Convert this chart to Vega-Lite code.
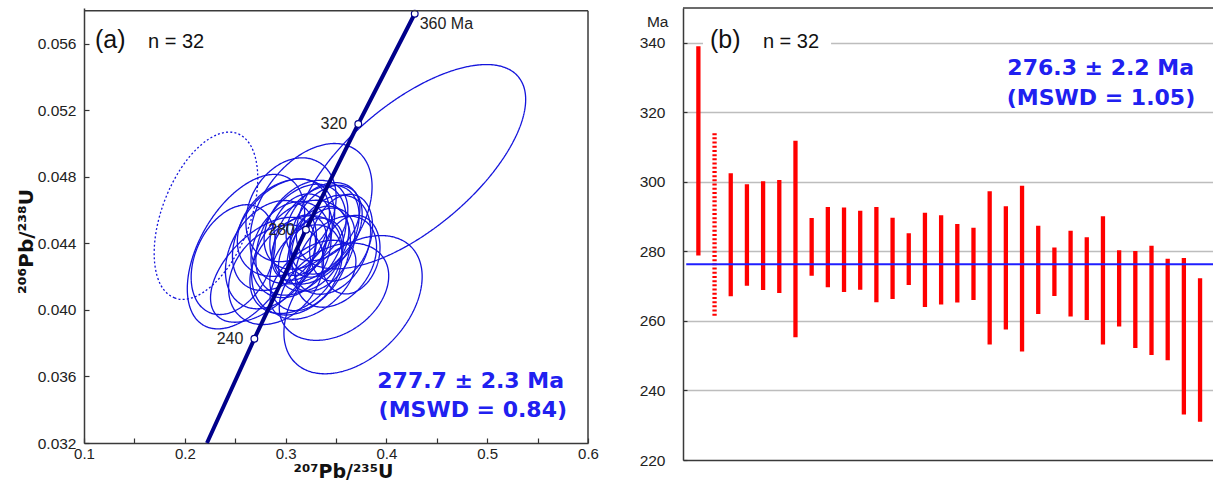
{
  "$schema": "https://vega.github.io/schema/vega-lite/v6.json",
  "padding": {"left": 16, "top": 5, "right": 0, "bottom": 0},
  "spacing": 40,
  "config": {"view": {"stroke": null}, "font": "Liberation Sans", "axis": {"labelFont": "Liberation Sans", "titleFont": "DejaVu Sans"}},
  "datasets": {
    "ellipses": [
      {"id": 1, "x": 0.4244, "y": 0.04862, "a": 0.1389, "ratio": "0.45", "theta": 40, "style": "solid"},
      {"id": 2, "x": 0.2210, "y": 0.04567, "a": 0.0873, "ratio": "0.5", "theta": 69, "style": "dashed"},
      {"id": 3, "x": 0.3669, "y": 0.04032, "a": 0.0813, "ratio": "0.65", "theta": 45, "style": "solid"},
      {"id": 4, "x": 0.3480, "y": 0.04110, "a": 0.0595, "ratio": "0.7", "theta": 35, "style": "solid"},
      {"id": 5, "x": 0.2607, "y": 0.04351, "a": 0.0843, "ratio": "0.55", "theta": 60, "style": "solid"},
      {"id": 6, "x": 0.3252, "y": 0.04579, "a": 0.0774, "ratio": "0.65", "theta": 55, "style": "solid"},
      {"id": 7, "x": 0.3153, "y": 0.04423, "a": 0.0595, "ratio": "0.65", "theta": 60, "style": "solid"},
      {"id": 8, "x": 0.3302, "y": 0.04453, "a": 0.0546, "ratio": "0.65", "theta": 55, "style": "solid"},
      {"id": 9, "x": 0.3054, "y": 0.04363, "a": 0.0496, "ratio": "0.75", "theta": 65, "style": "solid"},
      {"id": 10, "x": 0.3351, "y": 0.04363, "a": 0.0446, "ratio": "0.65", "theta": 60, "style": "solid"},
      {"id": 11, "x": 0.3202, "y": 0.04513, "a": 0.0496, "ratio": "0.7", "theta": 50, "style": "solid"},
      {"id": 12, "x": 0.2954, "y": 0.04453, "a": 0.0615, "ratio": "0.65", "theta": 55, "style": "solid"},
      {"id": 13, "x": 0.3401, "y": 0.04483, "a": 0.0476, "ratio": "0.65", "theta": 60, "style": "solid"},
      {"id": 14, "x": 0.3103, "y": 0.04273, "a": 0.0546, "ratio": "0.7", "theta": 50, "style": "solid"},
      {"id": 15, "x": 0.3252, "y": 0.04333, "a": 0.0397, "ratio": "0.7", "theta": 55, "style": "solid"},
      {"id": 16, "x": 0.3450, "y": 0.04393, "a": 0.0516, "ratio": "0.7", "theta": 65, "style": "solid"},
      {"id": 17, "x": 0.2855, "y": 0.04333, "a": 0.0575, "ratio": "0.7", "theta": 60, "style": "solid"},
      {"id": 18, "x": 0.3153, "y": 0.04453, "a": 0.0417, "ratio": "0.7", "theta": 70, "style": "solid"},
      {"id": 19, "x": 0.3331, "y": 0.04411, "a": 0.0377, "ratio": "0.7", "theta": 60, "style": "solid"},
      {"id": 20, "x": 0.3004, "y": 0.04495, "a": 0.0546, "ratio": "0.75", "theta": 45, "style": "solid"},
      {"id": 21, "x": 0.3500, "y": 0.04291, "a": 0.0496, "ratio": "0.7", "theta": 55, "style": "solid"},
      {"id": 22, "x": 0.3202, "y": 0.04254, "a": 0.0456, "ratio": "0.7", "theta": 60, "style": "solid"},
      {"id": 23, "x": 0.3054, "y": 0.04603, "a": 0.0546, "ratio": "0.75", "theta": 60, "style": "solid"},
      {"id": 24, "x": 0.3371, "y": 0.04531, "a": 0.0437, "ratio": "0.7", "theta": 50, "style": "solid"},
      {"id": 25, "x": 0.2776, "y": 0.04242, "a": 0.0645, "ratio": "0.55", "theta": 45, "style": "solid"},
      {"id": 26, "x": 0.2905, "y": 0.04212, "a": 0.0546, "ratio": "0.75", "theta": 50, "style": "solid"},
      {"id": 27, "x": 0.3272, "y": 0.04182, "a": 0.0496, "ratio": "0.6", "theta": 40, "style": "solid"},
      {"id": 28, "x": 0.3133, "y": 0.04375, "a": 0.0347, "ratio": "0.7", "theta": 60, "style": "solid"},
      {"id": 29, "x": 0.3550, "y": 0.04435, "a": 0.0446, "ratio": "0.65", "theta": 70, "style": "solid"},
      {"id": 30, "x": 0.2480, "y": 0.04303, "a": 0.0575, "ratio": "0.65", "theta": 65, "style": "solid"},
      {"id": 31, "x": 0.3649, "y": 0.04333, "a": 0.0397, "ratio": "0.7", "theta": 75, "style": "solid"},
      {"id": 32, "x": 0.3153, "y": 0.04315, "a": 0.0615, "ratio": "0.7", "theta": 58, "style": "solid"}
    ],
    "concordia": [
      {"t": 203, "x": 0.222, "y": 0.032, "label": ""},
      {"t": 240, "x": 0.2690, "y": 0.03827, "label": "240"},
      {"t": 280, "x": 0.3202, "y": 0.04483, "label": "280"},
      {"t": 320, "x": 0.3721, "y": 0.05119, "label": "320"},
      {"t": 360, "x": 0.4281, "y": 0.05782, "label": "360 Ma"}
    ],
    "ages": [
      {"i": 1, "lo": 278.8, "hi": 339.0, "style": "solid"},
      {"i": 2, "lo": 261.2, "hi": 314.0, "style": "dashed"},
      {"i": 3, "lo": 267.1, "hi": 302.5, "style": "solid"},
      {"i": 4, "lo": 270.1, "hi": 299.3, "style": "solid"},
      {"i": 5, "lo": 268.9, "hi": 300.2, "style": "solid"},
      {"i": 6, "lo": 268.0, "hi": 300.5, "style": "solid"},
      {"i": 7, "lo": 255.3, "hi": 311.8, "style": "solid"},
      {"i": 8, "lo": 273.0, "hi": 289.6, "style": "solid"},
      {"i": 9, "lo": 269.7, "hi": 292.8, "style": "solid"},
      {"i": 10, "lo": 268.3, "hi": 292.6, "style": "solid"},
      {"i": 11, "lo": 269.0, "hi": 291.7, "style": "solid"},
      {"i": 12, "lo": 265.4, "hi": 292.8, "style": "solid"},
      {"i": 13, "lo": 266.3, "hi": 289.7, "style": "solid"},
      {"i": 14, "lo": 270.3, "hi": 285.2, "style": "solid"},
      {"i": 15, "lo": 264.0, "hi": 291.1, "style": "solid"},
      {"i": 16, "lo": 264.7, "hi": 290.4, "style": "solid"},
      {"i": 17, "lo": 265.3, "hi": 287.9, "style": "solid"},
      {"i": 18, "lo": 266.0, "hi": 286.8, "style": "solid"},
      {"i": 19, "lo": 253.2, "hi": 297.3, "style": "solid"},
      {"i": 20, "lo": 257.5, "hi": 293.0, "style": "solid"},
      {"i": 21, "lo": 251.2, "hi": 298.9, "style": "solid"},
      {"i": 22, "lo": 262.0, "hi": 287.4, "style": "solid"},
      {"i": 23, "lo": 267.2, "hi": 281.1, "style": "solid"},
      {"i": 24, "lo": 261.3, "hi": 285.9, "style": "solid"},
      {"i": 25, "lo": 260.3, "hi": 284.1, "style": "solid"},
      {"i": 26, "lo": 253.2, "hi": 290.1, "style": "solid"},
      {"i": 27, "lo": 258.4, "hi": 280.3, "style": "solid"},
      {"i": 28, "lo": 252.2, "hi": 280.1, "style": "solid"},
      {"i": 29, "lo": 250.2, "hi": 281.6, "style": "solid"},
      {"i": 30, "lo": 248.7, "hi": 277.9, "style": "solid"},
      {"i": 31, "lo": 233.1, "hi": 278.1, "style": "solid"},
      {"i": 32, "lo": 231.0, "hi": 272.3, "style": "solid"}
    ]
  },
  "hconcat": [
    {
      "width": 504,
      "height": 435,
      "layer": [
        {
          "data": {"name": "ellipses"},
          "mark": {"type": "point", "filled": false, "strokeWidth": 1.3, "color": "#1414dc", "opacity": 1},
          "encoding": {
            "x": {"field": "x", "type": "quantitative", "scale": {"domain": [0.1, 0.6], "nice": false, "zero": false},
              "axis": {"title": "²⁰⁷Pb/²³⁵U", "titleX": 259, "values": [0.1, 0.15, 0.2, 0.25, 0.3, 0.35, 0.4, 0.45, 0.5, 0.55, 0.6],
                "labelExpr": "round(datum.value*100) % 10 == 0 ? format(datum.value, '.1f') : ''",
                "labelFlush": false, "labelOverlap": false, "tickSize": -5, "tickColor": "#333", "tickWidth": 1.2,
                "domainColor": "#3a3a3a", "domainWidth": 1.5, "labelFontSize": 15, "labelColor": "#222", "labelPadding": 8,
                "titleFontSize": 19, "titleFontWeight": "bold", "titleColor": "#111", "titlePadding": 1, "grid": false}},
            "y": {"field": "y", "type": "quantitative", "scale": {"domain": [0.032, 0.058165], "nice": false, "zero": false},
              "axis": {"title": "²⁰⁶Pb/²³⁸U", "values": [0.032, 0.034, 0.036, 0.038, 0.04, 0.042, 0.044, 0.046, 0.048, 0.05, 0.052, 0.054, 0.056],
                "labelExpr": "round(datum.value*1000) % 4 == 0 ? format(datum.value, '.3f') : ''",
                "labelOverlap": false, "tickSize": -5, "tickColor": "#333", "tickWidth": 1.2,
                "domainColor": "#3a3a3a", "domainWidth": 1.5, "labelFontSize": 15.5, "labelColor": "#222", "labelPadding": 13,
                "titleFontSize": 20, "titleFontWeight": "bold", "titleColor": "#111", "titlePadding": 1, "titleY": 233, "grid": false}},
            "shape": {"field": "ratio", "type": "nominal", "legend": null,
              "scale": {"domain": ["0.45", "0.5", "0.55", "0.6", "0.65", "0.7", "0.75"],
                "range": ["M-1,0A1,0.45,0,1,0,1,0A1,0.45,0,1,0,-1,0", "M-1,0A1,0.5,0,1,0,1,0A1,0.5,0,1,0,-1,0", "M-1,0A1,0.55,0,1,0,1,0A1,0.55,0,1,0,-1,0", "M-1,0A1,0.6,0,1,0,1,0A1,0.6,0,1,0,-1,0", "M-1,0A1,0.65,0,1,0,1,0A1,0.65,0,1,0,-1,0", "M-1,0A1,0.7,0,1,0,1,0A1,0.7,0,1,0,-1,0", "M-1,0A1,0.75,0,1,0,1,0A1,0.75,0,1,0,-1,0"]}},
            "size": {"field": "a", "type": "quantitative", "legend": null, "scale": {"type": "pow", "exponent": 2, "domain": [0, 0.1], "range": [0, 40642]}},
            "angle": {"field": "theta", "type": "quantitative", "legend": null, "scale": {"domain": [0, 360], "range": [360, 0]}},
            "strokeDash": {"field": "style", "type": "nominal", "legend": null, "scale": {"domain": ["solid", "dashed"], "range": [[1, 0], [2, 2.2]]}}
          }
        },
        {
          "data": {"name": "concordia"},
          "mark": {"type": "line", "color": "#00008b", "strokeWidth": 4},
          "encoding": {"x": {"field": "x", "type": "quantitative"}, "y": {"field": "y", "type": "quantitative"}, "order": {"field": "t", "type": "quantitative"}}
        },
        {
          "data": {"name": "concordia"},
          "transform": [{"filter": "datum.label != ''"}],
          "mark": {"type": "point", "shape": "circle", "filled": true, "fill": "white", "stroke": "#00008b", "strokeWidth": 1.2, "size": 45, "opacity": 1},
          "encoding": {"x": {"field": "x", "type": "quantitative"}, "y": {"field": "y", "type": "quantitative"}}
        },
        {
          "data": {"name": "concordia"},
          "transform": [{"filter": "datum.label != '' && datum.t < 350"}],
          "mark": {"type": "text", "align": "right", "baseline": "middle", "dx": -11, "fontSize": 16, "color": "#222", "font": "Liberation Sans"},
          "encoding": {"x": {"field": "x", "type": "quantitative"}, "y": {"field": "y", "type": "quantitative"}, "text": {"field": "label"}}
        },
        {
          "data": {"name": "concordia"},
          "transform": [{"filter": "datum.t > 350"}],
          "mark": {"type": "text", "align": "left", "baseline": "middle", "dx": 5, "dy": 10, "fontSize": 16, "color": "#222", "font": "Liberation Sans"},
          "encoding": {"x": {"field": "x", "type": "quantitative"}, "y": {"field": "y", "type": "quantitative"}, "text": {"field": "label"}}
        },
        {
          "data": {"values": [{}]},
          "mark": {"type": "rule", "color": "#3a3a3a", "strokeWidth": 1.5},
          "encoding": {"x": {"datum": 0.1}, "x2": {"datum": 0.6}, "y": {"datum": 0.058}}
        },
        {
          "data": {"values": [{}]},
          "mark": {"type": "rule", "color": "#3a3a3a", "strokeWidth": 1.5},
          "encoding": {"x": {"datum": 0.6}, "y": {"datum": 0.032}, "y2": {"datum": 0.058}}
        },
        {
          "data": {"values": [{}]},
          "mark": {"type": "text", "text": "(a)", "align": "left", "baseline": "middle", "fontSize": 25, "color": "#111", "font": "Liberation Sans"},
          "encoding": {"x": {"datum": 0.1109}, "y": {"datum": 0.05623}}
        },
        {
          "data": {"values": [{}]},
          "mark": {"type": "text", "text": "n = 32", "align": "left", "baseline": "middle", "fontSize": 20, "color": "#111", "font": "Liberation Sans"},
          "encoding": {"x": {"datum": 0.1635}, "y": {"datum": 0.05614}}
        },
        {
          "data": {"values": [{}]},
          "mark": {"type": "text", "text": "277.7 ± 2.3 Ma", "align": "right", "baseline": "middle", "fontSize": 22, "fontWeight": "bold", "color": "#2020f0", "font": "DejaVu Sans"},
          "encoding": {"x": {"datum": 0.5762}, "y": {"datum": 0.03571}}
        },
        {
          "data": {"values": [{}]},
          "mark": {"type": "text", "text": "(MSWD = 0.84)", "align": "right", "baseline": "middle", "fontSize": 22, "fontWeight": "bold", "color": "#2020f0", "font": "DejaVu Sans"},
          "encoding": {"x": {"datum": 0.5792}, "y": {"datum": 0.034}}
        }
      ]
    },
    {
      "width": 530,
      "height": 452,
      "layer": [
        {
          "data": {"values": [{}]},
          "mark": {"type": "rect", "color": "white"},
          "encoding": {
            "x": {"datum": 1.286, "type": "quantitative", "scale": {"domain": [0.05, 32.8], "nice": false, "zero": false},
              "axis": {"title": null, "labels": false, "ticks": false, "grid": false, "domainColor": "#3a3a3a", "domainWidth": 1.5}},
            "x2": {"datum": 9.2},
            "y": {"datum": 336, "type": "quantitative", "scale": {"domain": [220, 350], "nice": false, "zero": false},
              "axis": {"title": "Ma", "values": [220, 230, 240, 250, 260, 270, 280, 290, 300, 310, 320, 330, 340],
                "labelExpr": "datum.value % 20 == 0 ? datum.label : ''", "labelOverlap": false,
                "grid": true, "gridColor": "#bdbdbd", "gridWidth": 1.5,
                "gridOpacity": {"condition": {"test": "datum.value % 20 == 0 && datum.value > 220", "value": 1}, "value": 0},
                "tickSize": -4, "tickColor": "#333", "tickWidth": 1.2, "domainColor": "#3a3a3a", "domainWidth": 1.5,
                "labelFontSize": 15.5, "labelColor": "#222", "labelPadding": 22,
                "titleAngle": 0, "titleAlign": "right", "titleBaseline": "middle", "titleX": -15, "titleY": 13,
                "titleFont": "Liberation Sans", "titleFontWeight": "normal", "titleFontSize": 15.5, "titleColor": "#222"}},
            "y2": {"datum": 344}
          }
        },
        {
          "data": {"name": "ages"},
          "mark": {"type": "rule", "color": "#ff0000", "strokeWidth": 4.3},
          "encoding": {
            "x": {"field": "i", "type": "quantitative"},
            "y": {"field": "hi", "type": "quantitative"},
            "y2": {"field": "lo"},
            "strokeDash": {"field": "style", "type": "nominal", "legend": null, "scale": {"domain": ["solid", "dashed"], "range": [[1, 0], [3.5, 2]]}}
          }
        },
        {
          "data": {"values": [{}]},
          "mark": {"type": "rule", "color": "#1f1fff", "strokeWidth": 2},
          "encoding": {"x": {"datum": 0.25}, "x2": {"datum": 32.8}, "y": {"datum": 276.3}}
        },
        {
          "data": {"values": [{}]},
          "mark": {"type": "rule", "color": "#3a3a3a", "strokeWidth": 1.5},
          "encoding": {"x": {"datum": 0.05}, "x2": {"datum": 32.8}, "y": {"datum": 350}}
        },
        {
          "data": {"values": [{}]},
          "mark": {"type": "text", "text": "(b)", "align": "left", "baseline": "middle", "fontSize": 25, "color": "#111", "font": "Liberation Sans"},
          "encoding": {"x": {"datum": 1.719}, "y": {"datum": 340.66}}
        },
        {
          "data": {"values": [{}]},
          "mark": {"type": "text", "text": "n = 32", "align": "left", "baseline": "middle", "fontSize": 20, "color": "#111", "font": "Liberation Sans"},
          "encoding": {"x": {"datum": 4.99}, "y": {"datum": 340.2}}
        },
        {
          "data": {"values": [{}]},
          "mark": {"type": "text", "text": "276.3 ± 2.2 Ma", "align": "right", "baseline": "middle", "fontSize": 22, "fontWeight": "bold", "color": "#2020f0", "font": "DejaVu Sans"},
          "encoding": {"x": {"datum": 31.63}, "y": {"datum": 332.65}}
        },
        {
          "data": {"values": [{}]},
          "mark": {"type": "text", "text": "(MSWD = 1.05)", "align": "right", "baseline": "middle", "fontSize": 22, "fontWeight": "bold", "color": "#2020f0", "font": "DejaVu Sans"},
          "encoding": {"x": {"datum": 31.7}, "y": {"datum": 324.1}}
        }
      ]
    }
  ]
}
